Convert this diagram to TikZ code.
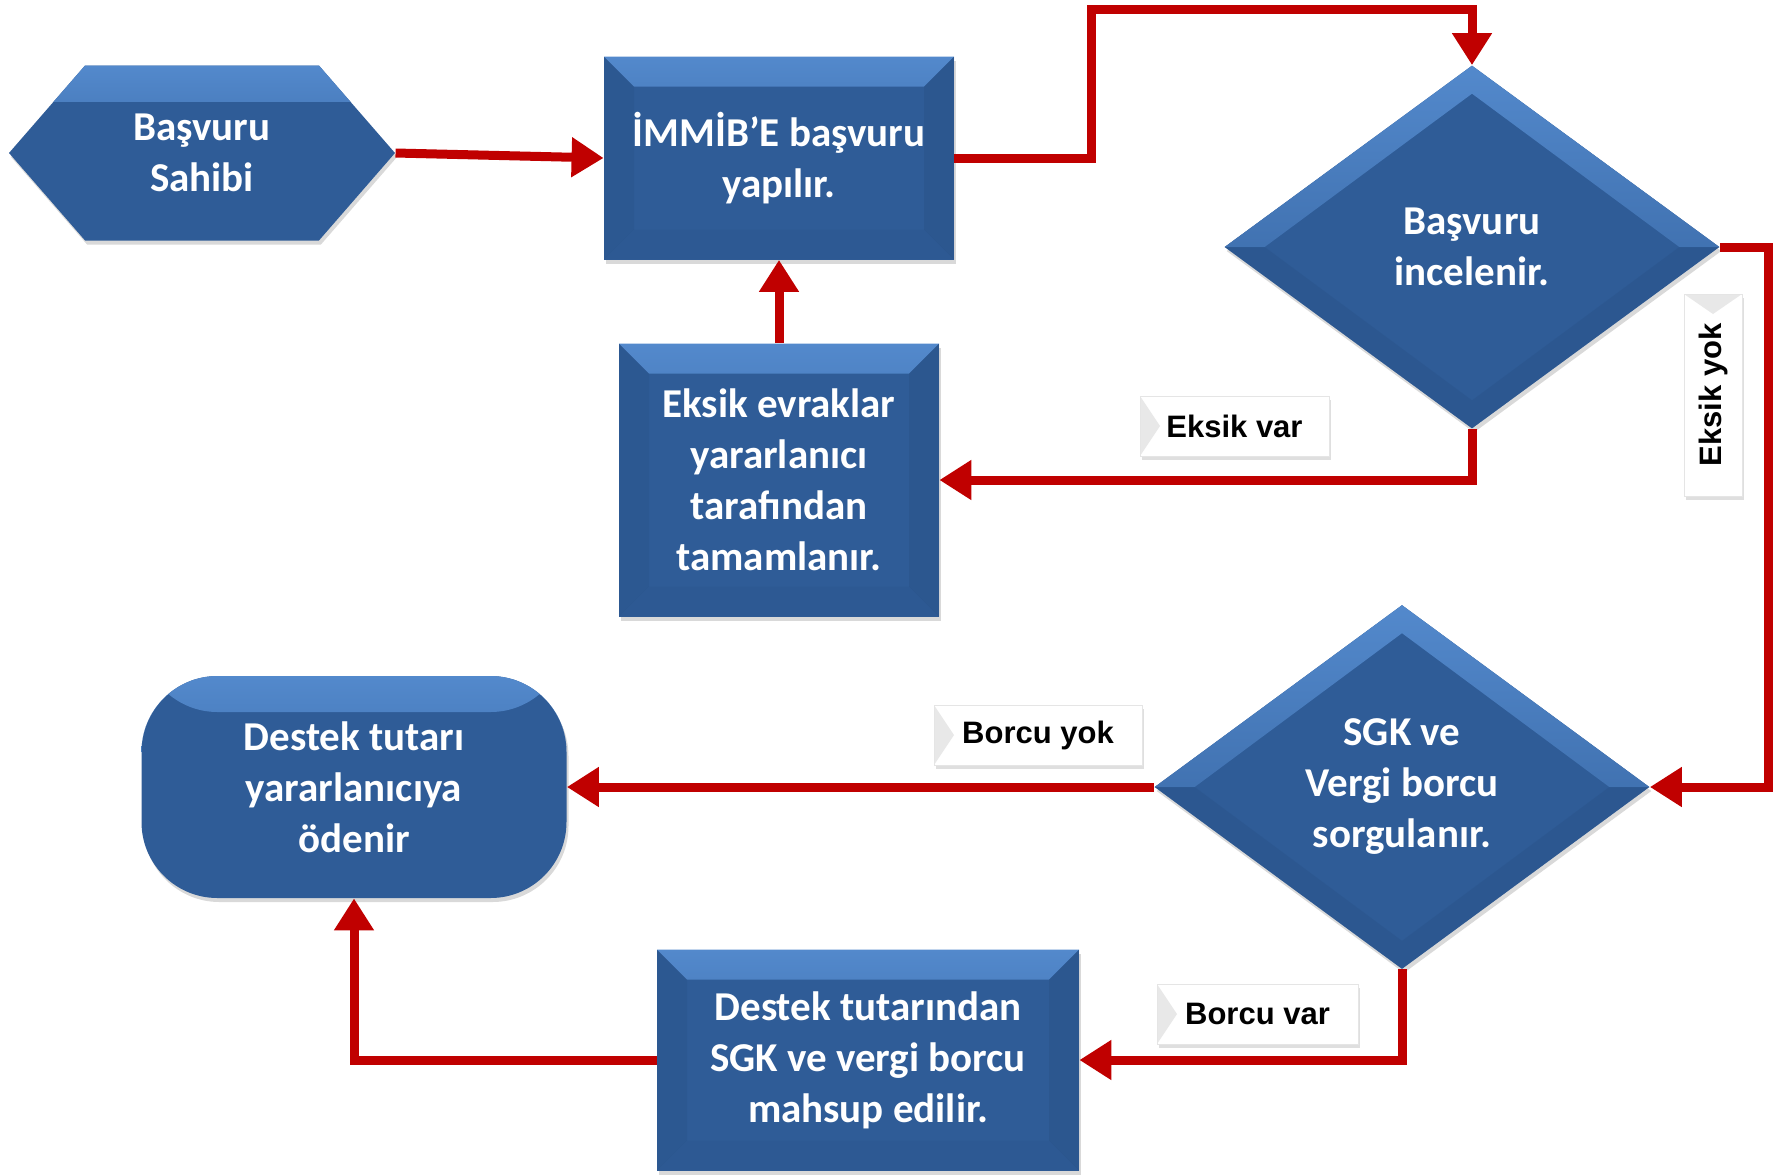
\documentclass[tikz,border=0pt]{standalone}
\usepackage{fontspec}
\setmainfont{Carlito}
\newfontfamily\lblfont{Liberation Sans}
\usetikzlibrary{arrows.meta}
\usetikzlibrary{shapes.geometric, shapes.symbols, positioning, shadows}

\definecolor{boxblue}{HTML}{2F5C97}
\definecolor{boxlight}{HTML}{5389CC}
\definecolor{boxdark}{HTML}{274E82}
\definecolor{flowred}{HTML}{C00000}

\tikzset{
  stepfont/.style={font=\fontsize{20.5}{25.5}\selectfont\bfseries, text=white, align=center},
  bluebox/.style={stepfont, fill=boxblue, inner sep=4pt,
    drop shadow={opacity=0.3, shadow xshift=1pt, shadow yshift=-2pt}},
  rectbevel/.style={path picture={
    \shade[top color=boxlight, bottom color=boxblue]
      (path picture bounding box.north west) -- (path picture bounding box.north east)
      -- ([xshift=-15pt,yshift=-15pt]path picture bounding box.north east)
      -- ([xshift=15pt,yshift=-15pt]path picture bounding box.north west) -- cycle;
    \fill[boxdark, opacity=0.25]
      (path picture bounding box.north west) -- ([xshift=15pt,yshift=-15pt]path picture bounding box.north west)
      -- ([xshift=15pt,yshift=15pt]path picture bounding box.south west) -- (path picture bounding box.south west) -- cycle;
    \fill[boxdark, opacity=0.35]
      (path picture bounding box.north east) -- ([xshift=-15pt,yshift=-15pt]path picture bounding box.north east)
      -- ([xshift=-15pt,yshift=15pt]path picture bounding box.south east) -- (path picture bounding box.south east) -- cycle;
    \fill[boxdark, opacity=0.15]
      (path picture bounding box.south west) -- ([xshift=15pt,yshift=15pt]path picture bounding box.south west)
      -- ([xshift=-15pt,yshift=15pt]path picture bounding box.south east) -- (path picture bounding box.south east) -- cycle;
  }},
  diabevel/.style={path picture={
    \shade[top color=boxlight, bottom color=boxblue]
      (path picture bounding box.west) -- (path picture bounding box.north) -- (path picture bounding box.east)
      -- ([xshift=-20pt]path picture bounding box.east) -- ([yshift=-14pt]path picture bounding box.north)
      -- ([xshift=20pt]path picture bounding box.west) -- cycle;
    \fill[boxdark, opacity=0.3]
      (path picture bounding box.west) -- (path picture bounding box.south) -- (path picture bounding box.east)
      -- ([xshift=-20pt]path picture bounding box.east) -- ([yshift=14pt]path picture bounding box.south)
      -- ([xshift=20pt]path picture bounding box.west) -- cycle;
  }},
  topbevel/.style={path picture={
    \shade[top color=boxlight, bottom color=boxblue]
      (path picture bounding box.north west) rectangle ([yshift=-18pt]path picture bounding box.north east);
  }},
  tag/.style={font=\lblfont\fontsize{15.5}{18}\selectfont\bfseries, fill=white, draw=gray!20,
    inner sep=2pt, drop shadow={opacity=0.25, shadow xshift=1pt, shadow yshift=-2pt}},
  lefttri/.style={path picture={
    \fill[gray!18] (path picture bounding box.north west) -- ([xshift=10pt]path picture bounding box.west)
      -- (path picture bounding box.south west) -- cycle;
  }},
  toptri/.style={path picture={
    \fill[gray!18] (path picture bounding box.north west) -- ([yshift=-10pt]path picture bounding box.north)
      -- (path picture bounding box.north east) -- cycle;
  }},
  flow/.style={draw=flowred, line width=4.5pt, -{Triangle[length=16pt,width=19pt]}}
}

\begin{document}
\begin{tikzpicture}[x=0.5pt, y=-0.5pt, node distance=100pt]
    \useasboundingbox (0,0) rectangle (1785,1175);

    % Define blocks
    \node [bluebox, topbevel, signal, signal to=east and west, signal pointer angle=98,
           minimum width=193pt, minimum height=87.5pt] at (202,153) (hex) {Başvuru\\Sahibi};
    \node [bluebox, rectbevel, rectangle, minimum width=175pt, minimum height=101.5pt,
           right of=hex, xshift=188.5pt, yshift=-2.5pt] (immib) {İMMİB’E başvuru\\yapılır.};
    \node [bluebox, diabevel, diamond, aspect=1.36, inner sep=0pt, minimum width=247.5pt, minimum height=181.5pt,
           right of=immib, xshift=246.5pt, yshift=-44.5pt] (incele) {Başvuru\\incelenir.};
    \node [bluebox, rectbevel, rectangle, minimum width=160pt, minimum height=136.5pt,
           below of=immib, yshift=-61pt] (eksik) {Eksik evraklar\\yararlanıcı\\tarafından\\tamamlanır.};
    \node [bluebox, diabevel, diamond, aspect=1.36, inner sep=0pt, minimum width=247.5pt, minimum height=182pt,
           below of=incele, xshift=-35pt, yshift=-170pt] (sgk) {SGK ve\\Vergi borcu\\sorgulanır.};
    \node [bluebox, topbevel, rectangle, rounded corners=38pt, minimum width=212.5pt, minimum height=111pt,
           left of=sgk, xshift=-424pt] (odenir) {Destek tutarı\\yararlanıcıya\\ödenir};
    \node [bluebox, rectbevel, rectangle, minimum width=211pt, minimum height=110.5pt,
           below of=eksik, xshift=44.5pt, yshift=-190pt] (mahsup) {Destek tutarından\\SGK ve vergi borcu\\mahsup edilir.};

    % Define labels
    \node [tag, lefttri, minimum width=94.5pt, minimum height=30pt] at (1234.5,426) (evar) {Eksik var};
    \node [tag, toptri, minimum width=29pt, minimum height=101pt] at (1713,395) (eyok) {\rotatebox{90}{Eksik yok}};
    \node [tag, lefttri, minimum width=104pt, minimum height=30pt] at (1038,735) (byok) {Borcu yok};
    \node [tag, lefttri, minimum width=100.5pt, minimum height=30pt] at (1257.5,1014) (bvar) {Borcu var};

    % Define arrows
    \draw [flow] (hex.east) -- (immib.west);
    \draw [flow] (immib.east) -| (1091,9) -| (incele.north);
    \draw [flow] (incele.south) |- (eksik.east);
    \draw [flow] (eksik.north) -- (immib.south);
    \draw [flow] (incele.east) -- ++(49,0) |- (sgk.east);
    \draw [flow] (sgk.west) -- (odenir.east);
    \draw [flow] (sgk.south) |- (mahsup.east);
    \draw [flow] (mahsup.west) -| (odenir.south);
\end{tikzpicture}
\end{document}
